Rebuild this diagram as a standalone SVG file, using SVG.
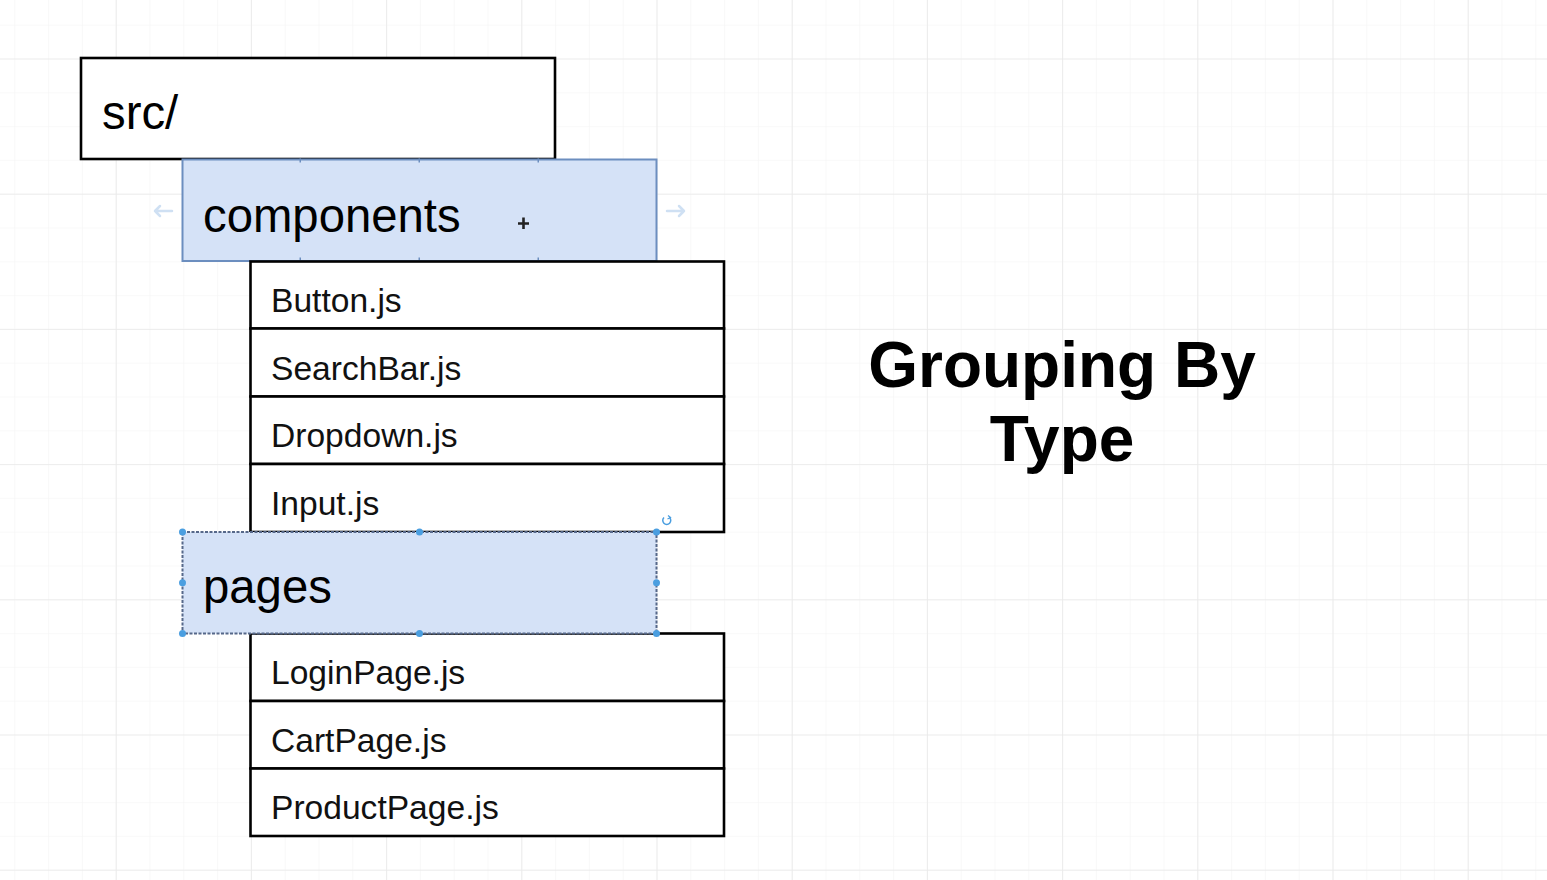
<svg xmlns="http://www.w3.org/2000/svg" width="1547" height="880" viewBox="0 0 1547 880">
  <defs>
    <pattern id="minor" x="115.7" y="58.5" width="33.8" height="33.8" patternUnits="userSpaceOnUse">
      <path d="M0 0 H33.8 M0 0 V33.8" fill="none" stroke="#f4f4f4" stroke-width="1.2"/>
    </pattern>
    <pattern id="major" x="115.7" y="58.5" width="135.2" height="135.2" patternUnits="userSpaceOnUse">
      <path d="M0 0 H135.2 M0 0 V135.2" fill="none" stroke="#e9e9e9" stroke-width="1.6"/>
    </pattern>
  </defs>
  <style>
    .box { fill: #ffffff; stroke: #000000; stroke-width: 2.6; }
    .folder { fill: #d5e2f7; stroke: #6c8ebf; stroke-width: 2; }
    .sel { fill: #d5e2f7; stroke: #56688a; stroke-width: 2; stroke-dasharray: 3 1.5; }
    .big { font-family: "Liberation Sans", Arial, sans-serif; font-size: 47.3px; fill: #000; }
    .item { font-family: "Liberation Sans", Arial, sans-serif; font-size: 33.6px; fill: #111; }
    .title { font-family: "Liberation Sans", Arial, sans-serif; font-size: 64px; font-weight: bold; fill: #000; text-anchor: middle; }
    .handle { fill: #4a9ee0; }
    .hint { fill: none; stroke: #cfe0f3; stroke-width: 2.5; stroke-linecap: round; stroke-linejoin: round; }
  </style>
  <rect width="1547" height="880" fill="#ffffff"/>
  <rect width="1547" height="880" fill="url(#minor)"/>
  <rect width="1547" height="880" fill="url(#major)"/>

  <g id="src">
    <rect class="box" x="81" y="58" width="474" height="101"/>
    <text class="big" x="102" y="129">src/</text>
  </g>

  <g id="components">
    <rect class="folder" x="182.5" y="159.5" width="474" height="101.5"/>
    <g fill="#6c8ebf">
      <rect x="299.5" y="158.5" width="1.5" height="4"/>
      <rect x="418.5" y="158.5" width="1.5" height="4"/>
      <rect x="537.5" y="158.5" width="1.5" height="4"/>
      <rect x="299.5" y="257.5" width="1.5" height="4"/>
      <rect x="418.5" y="257.5" width="1.5" height="4"/>
      <rect x="537.5" y="257.5" width="1.5" height="4"/>
    </g>
    <text class="big" x="203" y="232">components</text>
  </g>

  <g id="button-js">
    <rect class="box" x="250.5" y="261.5" width="473.5" height="67"/>
    <text class="item" x="271" y="312">Button.js</text>
  </g>
  <g id="searchbar-js">
    <rect class="box" x="250.5" y="328.5" width="473.5" height="68"/>
    <text class="item" x="271" y="380">SearchBar.js</text>
  </g>
  <g id="dropdown-js">
    <rect class="box" x="250.5" y="396.5" width="473.5" height="67.5"/>
    <text class="item" x="271" y="447">Dropdown.js</text>
  </g>
  <g id="input-js">
    <rect class="box" x="250.5" y="464" width="473.5" height="68"/>
    <text class="item" x="271" y="515">Input.js</text>
  </g>

  <g id="loginpage-js">
    <rect class="box" x="250.5" y="633.5" width="473.5" height="67.5"/>
    <text class="item" x="271" y="684">LoginPage.js</text>
  </g>
  <g id="cartpage-js">
    <rect class="box" x="250.5" y="701" width="473.5" height="67.5"/>
    <text class="item" x="271" y="752">CartPage.js</text>
  </g>
  <g id="productpage-js">
    <rect class="box" x="250.5" y="768.5" width="473.5" height="67.5"/>
    <text class="item" x="271" y="819">ProductPage.js</text>
  </g>

  <g id="pages">
    <rect class="sel" x="182.5" y="532" width="474" height="101.5"/>
    <text class="big" x="203" y="603">pages</text>
    <circle class="handle" cx="182.5" cy="532" r="3.5"/>
    <circle class="handle" cx="419.5" cy="532" r="3.5"/>
    <circle class="handle" cx="656.5" cy="532" r="3.5"/>
    <circle class="handle" cx="182.5" cy="582.7" r="3.5"/>
    <circle class="handle" cx="656.5" cy="582.7" r="3.5"/>
    <circle class="handle" cx="182.5" cy="633.5" r="3.5"/>
    <circle class="handle" cx="419.5" cy="633.5" r="3.5"/>
    <circle class="handle" cx="656.5" cy="633.5" r="3.5"/>
    <path d="M664 517.5 A4 4 0 1 0 669.5 517.5" fill="none" stroke="#4a9ee0" stroke-width="1.5"/>
    <path d="M668 515.5 L670.5 517.5 L667.5 519" fill="none" stroke="#4a9ee0" stroke-width="1.2"/>
  </g>

  <g id="connectors">
    <path class="hint" d="M172 211 H155 M160 206 L155 211 L160 216"/>
    <path class="hint" d="M667 211 H684 M679 206 L684 211 L679 216"/>
    <path d="M523.5 217.5 V229 M518 223.5 H529" stroke="#222" stroke-width="2.6"/>
  </g>

  <g id="title">
    <text class="title" x="1062" y="387">Grouping By</text>
    <text class="title" x="1062" y="461">Type</text>
  </g>
</svg>
